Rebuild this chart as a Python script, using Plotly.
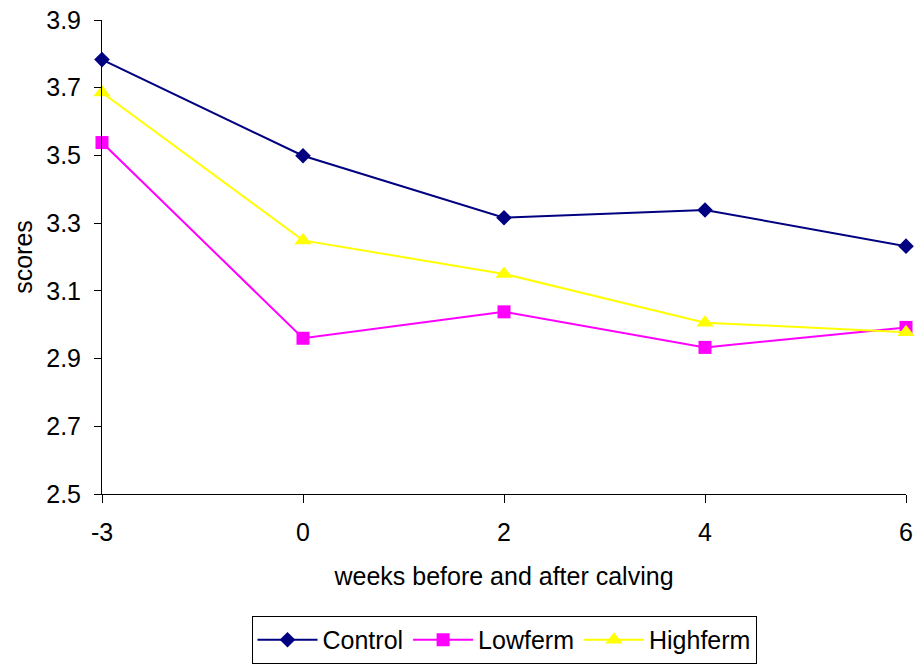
import plotly.graph_objects as go

weeks = ["-3", "0", "2", "4", "6"]
control = [3.783, 3.499, 3.316, 3.339, 3.232]
lowferm = [3.538, 2.960, 3.038, 2.933, 2.992]
highferm = [3.686, 3.249, 3.150, 3.006, 2.978]
y_ticks = [2.5, 2.7, 2.9, 3.1, 3.3, 3.5, 3.7, 3.9]

FONT = "Liberation Sans, Arial, sans-serif"
FS = 25

fig = go.Figure()
fig.add_trace(go.Scatter(x=weeks, y=control, name="Control", mode="lines+markers",
                         line=dict(color="#000080", width=2),
                         marker=dict(symbol="diamond", size=12, color="#000080"),
                         cliponaxis=False))
fig.add_trace(go.Scatter(x=weeks, y=lowferm, name="Lowferm", mode="lines+markers",
                         line=dict(color="#FF00FF", width=2),
                         marker=dict(symbol="square", size=13, color="#FF00FF"),
                         cliponaxis=False))
fig.add_trace(go.Scatter(x=weeks, y=highferm, name="Highferm", mode="lines+markers",
                         line=dict(color="#FFFF00", width=2),
                         marker=dict(symbol="triangle-up", size=15, color="#FFFF00"),
                         cliponaxis=False))

fig.update_layout(
    width=918, height=665,
    margin=dict(l=102, r=12, t=20, b=171, autoexpand=False),
    paper_bgcolor="white", plot_bgcolor="white",
    font=dict(family=FONT, size=FS, color="black"),
    showlegend=True,
    legend=dict(orientation="h", x=0.5, xanchor="center", y=-0.308, yanchor="middle",
                bordercolor="black", borderwidth=1, font=dict(size=FS),
                itemwidth=60, tracegroupgap=0),
    xaxis=dict(type="category", range=[0, 4], showline=True, linecolor="black", linewidth=1,
               ticks="outside", ticklen=8, tickcolor="black", showgrid=False, zeroline=False,
               automargin=False, tickfont=dict(size=FS), ticklabelstandoff=8,
               ticklabeloverflow="allow",
               title=dict(text="weeks before and after calving", font=dict(size=FS), standoff=22)),
    yaxis=dict(range=[2.5, 3.9], tickvals=y_ticks, ticktext=[f"{v:.1f}" for v in y_ticks],
               showline=True, linecolor="black", linewidth=1,
               ticks="outside", ticklen=7, tickcolor="black", showgrid=False, zeroline=False,
               automargin=False, tickfont=dict(size=FS), ticklabelstandoff=8,
               ticklabeloverflow="allow",
               title=dict(text="scores", font=dict(size=FS), standoff=6)),
)

fig.write_html("out.html", config={"displayModeBar": False},
               post_script="document.body.style.margin='0';document.body.style.overflow='hidden';")
